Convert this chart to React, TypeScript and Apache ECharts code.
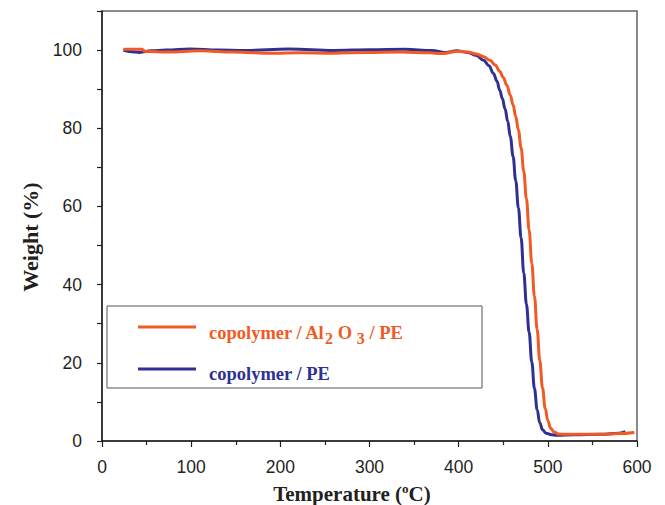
import React, { useEffect, useRef } from "react";
import * as echarts from "echarts";

// copolymer / PE (blue)
const peTemp = [24, 33, 42, 55, 72, 99, 130, 160, 210, 260, 300, 340, 370, 385, 398, 410, 420, 428, 434, 439, 443, 446, 449, 452, 455, 458, 461, 464, 467, 470, 473, 476, 479, 482, 485, 488, 491, 494, 498, 504, 510, 530, 560, 580, 587];
const peWeight = [100.0, 99.6, 99.4, 99.8, 100.0, 100.3, 100.0, 99.9, 100.3, 99.9, 100.1, 100.2, 99.9, 99.4, 99.8, 99.4, 98.6, 97.4, 96.0, 94.0, 92.0, 89.8, 87.6, 85.0, 81.8, 77.8, 72.8, 66.6, 59.6, 52.0, 43.0, 35.0, 27.8, 20.2, 13.4, 8.0, 4.6, 2.9, 2.0, 1.6, 1.5, 1.6, 1.7, 2.0, 2.4];

// copolymer / Al2O3 / PE (orange)
const alTemp = [24, 45, 48, 73, 110, 147, 192, 222, 259, 297, 334, 368, 380, 400, 410, 420, 428, 435, 441, 446, 450, 454, 458, 461, 464, 467, 470, 473, 476, 479, 482, 485, 488, 491, 494, 497, 500, 503, 507, 512, 520, 560, 580, 597];
const alWeight = [100.2, 100.2, 99.7, 99.5, 99.8, 99.5, 99.2, 99.3, 99.2, 99.4, 99.5, 99.3, 99.1, 99.7, 99.5, 99.0, 98.3, 97.4, 96.2, 94.6, 93.0, 91.0, 88.4, 86.0, 83.0, 79.5, 75.0, 69.0, 62.0, 54.0, 45.5, 37.0, 28.5, 20.5, 13.6, 8.4, 5.2, 3.3, 2.3, 1.8, 1.7, 1.7, 1.9, 2.2];

const seriesNames = ["copolymer / Al2O3 / PE", "copolymer / PE"];
const seriesColors = ["#F15A24", "#2E3192"];
const legendTexts = ["{r|copolymer / Al}{rs|2}{r| O }{rs|3}{r| / PE}", "{b|copolymer / PE}"];
const xTitle = "Temperature ({sup|o}C)";
const yTitle = "Weight (%)";

const serif = "'Liberation Serif', 'Times New Roman', serif";
const sans = "'Liberation Sans', Arial, sans-serif";

export default function App() {
  const ref = useRef<HTMLDivElement>(null);
  useEffect(() => {
    if (!ref.current) return;
    const chart = echarts.init(ref.current, null, { renderer: "svg" });
    const toPairs = (t: number[], w: number[]) => t.map((x, i) => [x, w[i]]);
    const legendFont = { fontSize: 18.5, fontWeight: "bold", fontFamily: serif };
    chart.setOption({
      animation: false,
      backgroundColor: "#fff",
      grid: {
        left: 102,
        right: 28,
        top: 11,
        bottom: 64,
        show: true,
        borderColor: "#666",
        borderWidth: 1.5,
      },
      xAxis: {
        type: "value",
        min: 0,
        max: 600,
        interval: 100,
        axisLine: { show: true, lineStyle: { color: "#231F20", width: 1.5 } },
        axisTick: { show: true, length: 6, lineStyle: { color: "#231F20", width: 1.2 } },
        minorTick: { show: true, splitNumber: 2, length: 4, lineStyle: { color: "#231F20", width: 1.2 } },
        splitLine: { show: false },
        axisLabel: { color: "#231F20", fontSize: 17.5, fontFamily: sans, margin: 17 },
      },
      yAxis: {
        type: "value",
        min: 0,
        max: 110,
        interval: 10,
        axisLine: { show: true, lineStyle: { color: "#231F20", width: 1.5 } },
        axisTick: { show: true, length: 5, lineStyle: { color: "#231F20", width: 1.2 } },
        splitLine: { show: false },
        axisLabel: {
          color: "#231F20",
          fontSize: 17.5,
          fontFamily: sans,
          margin: 20,
          formatter: (v: number) => (v % 20 === 0 && v <= 100 ? String(v) : ""),
        },
      },
      graphic: [
        {
          type: "rect",
          shape: { x: 107, y: 306, width: 375, height: 82 },
          style: { fill: "#fff", stroke: "#555", lineWidth: 1 },
          z: 10,
        },
        {
          type: "line",
          shape: { x1: 138, y1: 327, x2: 196, y2: 327 },
          style: { stroke: seriesColors[0], lineWidth: 3 },
          z: 11,
        },
        {
          type: "line",
          shape: { x1: 138, y1: 369, x2: 196, y2: 369 },
          style: { stroke: seriesColors[1], lineWidth: 3 },
          z: 11,
        },
        {
          type: "text",
          x: 209,
          y: 333,
          z: 11,
          style: {
            text: legendTexts[0],
            align: "left",
            verticalAlign: "middle",
            rich: {
              r: { ...legendFont, fill: seriesColors[0], lineHeight: 26, verticalAlign: "middle" },
              rs: { ...legendFont, fontSize: 16, fill: seriesColors[0], lineHeight: 14, verticalAlign: "bottom" },
            },
          },
        },
        {
          type: "text",
          x: 209,
          y: 374,
          z: 11,
          style: {
            text: legendTexts[1],
            align: "left",
            verticalAlign: "middle",
            rich: {
              b: { ...legendFont, fill: seriesColors[1], lineHeight: 26, verticalAlign: "middle" },
            },
          },
        },
        {
          type: "text",
          x: 352,
          y: 494,
          style: {
            text: xTitle,
            fill: "#231F20",
            fontSize: 21,
            fontWeight: "bold",
            fontFamily: serif,
            align: "center",
            verticalAlign: "middle",
            lineHeight: 24,
            rich: {
              sup: { fontSize: 13, fontWeight: "bold", fontFamily: serif, fill: "#231F20", lineHeight: 13, verticalAlign: "top" },
            },
          },
        },
        {
          type: "text",
          x: 30,
          y: 237,
          rotation: Math.PI / 2,
          style: {
            text: yTitle,
            fill: "#231F20",
            fontSize: 22,
            fontWeight: "bold",
            fontFamily: serif,
            align: "center",
            verticalAlign: "middle",
          },
        },
      ],
      series: [
        {
          name: seriesNames[1],
          type: "line",
          data: toPairs(peTemp, peWeight),
          showSymbol: false,
          smooth: 0.4,
          smoothMonotone: "x",
          lineStyle: { color: seriesColors[1], width: 3 },
          itemStyle: { color: seriesColors[1] },
        },
        {
          name: seriesNames[0],
          type: "line",
          data: toPairs(alTemp, alWeight),
          showSymbol: false,
          smooth: 0.4,
          smoothMonotone: "x",
          lineStyle: { color: seriesColors[0], width: 3 },
          itemStyle: { color: seriesColors[0] },
        },
      ],
    });
    return () => chart.dispose();
  }, []);
  return (
    <div
      ref={ref}
      style={{ position: "fixed", left: 0, top: 0, width: 665, height: 505 }}
    />
  );
}
